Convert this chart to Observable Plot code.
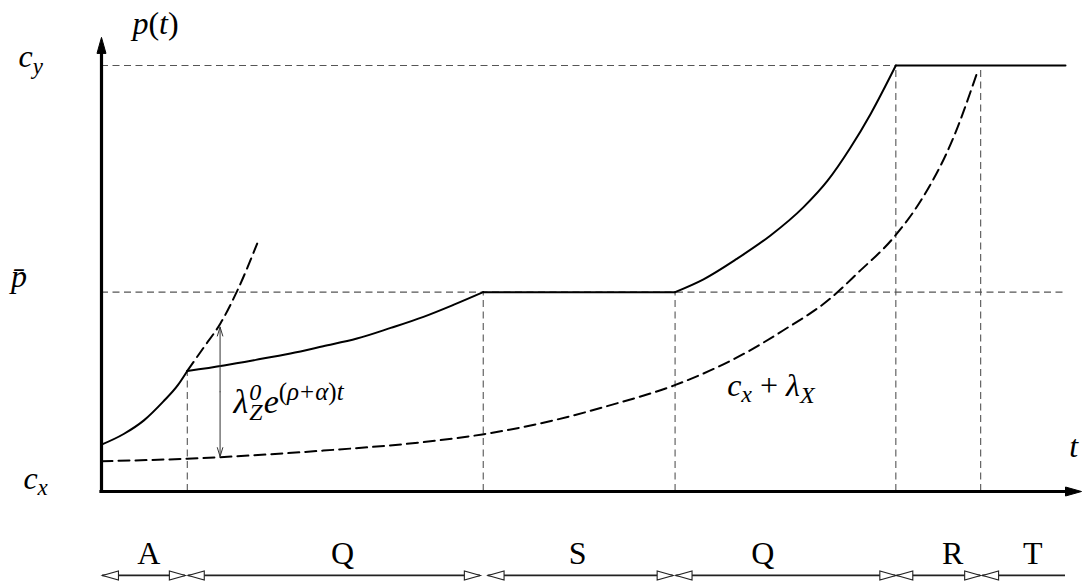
<!DOCTYPE html>
<html><head><meta charset="utf-8">
<script src="https://cdn.jsdelivr.net/npm/d3@7"></script>
<script src="https://cdn.jsdelivr.net/npm/@observablehq/plot@0.6"></script>
<style>body{margin:0;background:#fff} svg{display:block}</style>
</head><body><div id="chart"></div>
<script>
// ---- data (t in arbitrary time units, p normalised so c_x = 0, c_y = 1) ----
const cyLevel = 1;
const pbarLevel = 0.468;

// solid price path, by segment
const tA  = [0, 2.3, 4.4, 6.4, 7.9, 8.9];
const pA  = [0.110, 0.135, 0.167, 0.211, 0.249, 0.283];
const tQ1 = [8.9, 12.7, 16.0, 19.6, 23.0, 26.5, 30.0, 33.4, 36.5, 39.6];
const pQ1 = [0.283, 0.296, 0.309, 0.324, 0.341, 0.359, 0.384, 0.410, 0.438, 0.468];
const tS  = [39.6, 59.5];
const pS  = [0.468, 0.468];
const tQ2 = [59.5, 62.45, 65.9, 69.4, 72.8, 75.3, 77.7, 79.8, 82.4];
const pQ2 = [0.468, 0.498, 0.546, 0.601, 0.667, 0.729, 0.8075, 0.887, 1.0];
const tT  = [82.4, 100];
const pT  = [1, 1];

// dashed continuation of phase-A path
const tZ = [8.9, 10.6, 12.35, 14.1, 16.15];
const pZ = [0.283, 0.338, 0.395, 0.472, 0.582];

// dashed c_x + lambda_X
const tX = [0, 8.9, 23.0, 33.4, 39.5, 46.9, 53.0, 59.4, 66.7, 70.7, 75.6, 78.4, 82.2, 85.0, 88.4, 90.8];
const pX = [0.071, 0.077, 0.096, 0.116, 0.134, 0.167, 0.204, 0.249, 0.324, 0.378, 0.453, 0.512, 0.597, 0.683, 0.832, 0.981];

// phase boundaries and the height their guide lines reach
const boundaries    = [8.9, 39.6, 59.5, 82.4, 91.2];
const boundaryTops  = [0.283, 0.468, 0.468, 1, 1];

// phase spans shown below the axis
const phaseLabels = ["A", "Q", "S", "Q", "R", "T"];
const phaseStart  = [0.1, 9.0, 40.1, 59.6, 82.5, 91.4];
const phaseEnd    = [8.7, 39.3, 59.3, 82.4, 91.2, 100];
const phaseLabelT = [4.9, 25.0, 49.4, 68.6, 88.3, 96.6];
const phaseEndHead = [true, true, true, true, true, false];

// lambda_Z arrow
const arrowT = 12.3, arrowLo = 0.082, arrowHi = 0.386;

// ---- build tables ----
const seg = (name, ts, ps) => ts.map((t, i) => ({seg: name, t, p: ps[i]}));
const solid = [...seg("A", tA, pA), ...seg("Q1", tQ1, pQ1), ...seg("S", tS, pS), ...seg("Q2", tQ2, pQ2), ...seg("T", tT, pT)];
const zCurve = seg("Z", tZ, pZ);
const xCurve = seg("X", tX, pX);
const phases = phaseLabels.map((label, i) => ({label, start: phaseStart[i], end: phaseEnd[i], lt: phaseLabelT[i], head: phaseEndHead[i]}));
const vlines = boundaries.map((t, i) => ({t, top: boundaryTops[i]}));

const rowY = -0.197, labelY = -0.145;

const tri = {draw(ctx) { ctx.moveTo(0, 0); ctx.lineTo(-16, -4.5); ctx.lineTo(-16, 4.5); ctx.closePath(); }};

const FONT = "Liberation Serif";
const mathText = {fontFamily: FONT, fontSize: 32, fontStyle: "italic", fill: "black"};

const labels = [
  {k: "p(t)", t: 5.6, p: 1.099, a: "middle"},
  {k: "c_y", t: -8.6, p: 1.020, a: "start"},
  {k: "pbar", t: -9.4, p: 0.503, a: "start"},
  {k: "c_x", t: -8.1, p: 0.031, a: "start"},
  {k: "t", t: 100.4, p: 0.104, a: "start"},
  {k: "cxlx", t: 64.9, p: 0.249, a: "start"},
  {k: "lz", t: 13.7, p: 0.209, a: "start"}
];

const RICH = {
  "p(t)": 'p<tspan font-style="normal">(</tspan>t<tspan font-style="normal">)</tspan>',
  "c_y": 'c<tspan font-size="23" dy="7">y</tspan>',
  "pbar": 'p\u0304',
  "c_x": 'c<tspan font-size="23" dy="6">x</tspan>',
  "cxlx": 'c<tspan font-size="24" dy="6">x</tspan><tspan font-style="normal" dy="-6"> + </tspan>λ<tspan font-size="24" dy="7">X</tspan>',
  "lz": '<tspan font-size="34">λ</tspan><tspan font-size="24" dy="-13" dx="1">0</tspan><tspan font-size="24" dx="-12" dy="20">Z</tspan><tspan font-size="34" dy="-7" dx="1">e</tspan><tspan font-size="25" dy="-13"><tspan font-style="normal">(</tspan>ρ<tspan font-style="normal" dx="1">+</tspan><tspan dx="1">α</tspan><tspan font-style="normal">)</tspan>t</tspan>'
};

const refStyle = {stroke: "#555", strokeWidth: 1.1, strokeDasharray: "7,4.5"};

const svg = Plot.plot({
  width: 1088,
  height: 586,
  margin: 0,
  x: {domain: [-10.477, 102.386], axis: null},
  y: {domain: [-0.223, 1.1526], axis: null},
  style: {background: "white", overflow: "visible"},
  marks: [
    Plot.ruleY([pbarLevel, cyLevel], {x1: 0, x2: 100, ...refStyle}),
    Plot.ruleX(vlines, {x: "t", y1: 0, y2: "top", ...refStyle}),
    Plot.line(xCurve, {x: "t", y: "p", curve: "monotone-x", stroke: "black", strokeWidth: 2, strokeDasharray: "11,6"}),
    Plot.line(zCurve, {x: "t", y: "p", curve: "monotone-x", stroke: "black", strokeWidth: 2, strokeDasharray: "11,6"}),
    Plot.line(solid, {x: "t", y: "p", z: "seg", curve: "monotone-x", stroke: "black", strokeWidth: 2}),
    Plot.arrow([{t: arrowT, a: (arrowLo + arrowHi) / 2, b: arrowHi}, {t: arrowT, a: (arrowLo + arrowHi) / 2, b: arrowLo}],
      {x1: "t", x2: "t", y1: "a", y2: "b", stroke: "#333", strokeWidth: 1, headLength: 14, headAngle: 34}),
    // axes
    Plot.ruleX([0], {y1: 0, y2: 1.04, stroke: "black", strokeWidth: 3.2, strokeLinecap: "square"}),
    Plot.ruleY([0], {x1: 0, x2: 100.5, stroke: "black", strokeWidth: 3.2, strokeLinecap: "square"}),
    Plot.dot([{t: 0, p: 1.066}], {x: "t", y: "p", symbol: tri, rotate: -90, fill: "black", stroke: "black", strokeWidth: 1}),
    Plot.dot([{t: 101.66, p: 0}], {x: "t", y: "p", symbol: tri, rotate: 0, fill: "black", stroke: "black", strokeWidth: 1}),
    // phase spans
    Plot.ruleY(phases, {x1: "start", x2: "end", y: () => rowY, stroke: "#222", strokeWidth: 1.8}),
    Plot.dot(phases, {x: "start", y: () => rowY, symbol: tri, rotate: 180, fill: "white", stroke: "#222", strokeWidth: 1.1}),
    Plot.dot(phases.filter(d => d.head), {x: "end", y: () => rowY, symbol: tri, rotate: 0, fill: "white", stroke: "#222", strokeWidth: 1.1}),
    Plot.text(phases, {x: "lt", y: () => labelY, text: "label", fontFamily: FONT, fontSize: 32, fill: "black", textAnchor: "middle"}),
    // math labels
    ...["start", "middle"].map(a => Plot.text(labels.filter(d => d.a === a), {x: "t", y: "p", text: "k", textAnchor: a, ...mathText}))
  ]
});

d3.select(svg).selectAll("text").each(function () {
  const k = this.textContent;
  if (RICH[k] !== undefined) this.innerHTML = RICH[k];
});

document.getElementById("chart").appendChild(svg);
</script></body></html>
